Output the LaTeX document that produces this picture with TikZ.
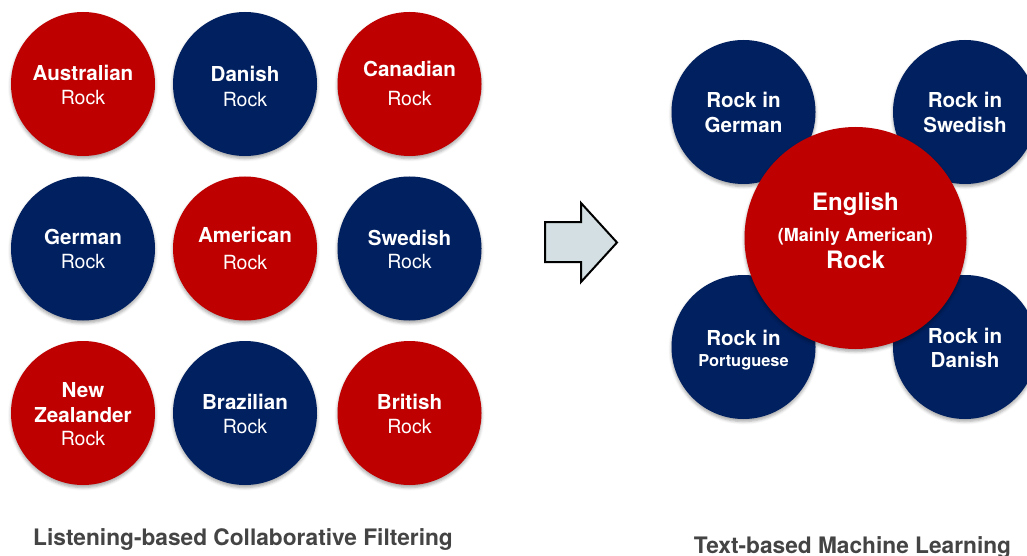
\documentclass[tikz,border=0pt]{standalone}
\usepackage{fontspec}
\setmainfont{TeX Gyre Heros}
\usetikzlibrary{shadows.blur}

\definecolor{discred}{HTML}{BF0000}
\definecolor{discblue}{HTML}{012060}
\definecolor{arrowfill}{HTML}{D3DFE2}
\definecolor{captiongray}{HTML}{444444}

\tikzset{
  disc/.style={circle, inner sep=0pt, draw=none, minimum size=144pt,
    blur shadow={shadow xshift=0pt, shadow yshift=-2.5pt,
      shadow blur radius=3pt, shadow opacity=35}},
  reddisc/.style={disc, fill=discred},
  bluedisc/.style={disc, fill=discblue},
  lbl/.style={text=white, anchor=base, inner sep=0pt},
  bigb/.style={lbl, font=\fontsize{20.6}{24}\selectfont\bfseries},
  small/.style={lbl, font=\fontsize{19.5}{22}\selectfont},
  hugeb/.style={lbl, font=\fontsize{24}{28}\selectfont\bfseries},
  midb/.style={lbl, font=\fontsize{18}{21}\selectfont\bfseries},
  caption/.style={text=captiongray, anchor=base, inner sep=0pt,
    font=\fontsize{22.7}{26}\selectfont\bfseries},
}

\begin{document}
\begin{tikzpicture}[x=1pt, y=-1pt]
  \useasboundingbox (0,0) rectangle (1027,556);

  % ---- grid of rock styles ----
  \node[reddisc]  (au) at (83,84)    {};
  \node[bluedisc] (da) at (245,84)   {};
  \node[reddisc]  (ca) at (409.5,84) {};
  \node[bluedisc] (ge) at (83,248.5)    {};
  \node[reddisc]  (am) at (245,248.5)   {};
  \node[bluedisc] (sw) at (409.5,248.5) {};
  \node[reddisc]  (nz) at (83,413)    {};
  \node[bluedisc] (br) at (245,413)   {};
  \node[reddisc]  (bt) at (409.5,413) {};

  \node[bigb]  (au1) at (83,81)  {Australian};
  \node[small] (au2) at (83,105) {Rock};
  \node[bigb]  (da1) at (245,82)  {Danish};
  \node[small] (da2) at (245,107) {Rock};
  \node[bigb]  (ca1) at (409.5,77)  {Canadian};
  \node[small] (ca2) at (409.5,106) {Rock};

  \node[bigb]  (ge1) at (83,244) {German};
  \node[small] (ge2) at (83,268) {Rock};
  \node[bigb]  (am1) at (245,242) {American};
  \node[small] (am2) at (245,269) {Rock};
  \node[bigb]  (sw1) at (409.5,245) {Swedish};
  \node[small] (sw2) at (409.5,268) {Rock};

  \node[bigb]  (nz1) at (83,397) {New};
  \node[bigb]  (nz2) at (83,422) {Zealander};
  \node[small] (nz3) at (83,445) {Rock};
  \node[bigb]  (br1) at (245,409) {Brazilian};
  \node[small] (br2) at (245,433) {Rock};
  \node[bigb]  (bt1) at (409.5,409) {British};
  \node[small] (bt2) at (409.5,433) {Rock};

  % ---- transition arrow ----
  \draw[fill=arrowfill, draw=black, line width=2pt, line join=miter]
    (545,222) -- (581,222) -- (581,203) -- (617,242.5) -- (581,282)
    -- (581,262) -- (545,262) -- cycle;

  % ---- language clusters ----
  \node[bluedisc] (rg) at (743.5,112) {};
  \node[bluedisc] (rs) at (965,112)   {};
  \node[bluedisc] (rp) at (743.5,347) {};
  \node[bluedisc] (rd) at (965,347)   {};
  \node[reddisc, minimum size=222pt] (en) at (855.5,238) {};

  \node[bigb] (rg1) at (743.5,108) {Rock in};
  \node[bigb] (rg2) at (743.5,133) {German};
  \node[bigb] (rs1) at (965,108) {Rock in};
  \node[bigb] (rs2) at (965,133) {Swedish};
  \node[bigb] (rp1) at (743.5,345) {Rock in};
  \node[lbl, font=\fontsize{16.4}{19}\selectfont\bfseries] (rp2) at (743.5,366) {Portuguese};
  \node[bigb] (rd1) at (965,343) {Rock in};
  \node[bigb] (rd2) at (965,367) {Danish};

  \node[hugeb] (en1) at (855.5,210) {English};
  \node[midb]  (en2) at (855.5,241) {(Mainly American)};
  \node[hugeb] (en3) at (855.5,268) {Rock};

  % ---- captions ----
  \node[caption] (capL) at (243,545)   {Listening-based Collaborative Filtering};
  \node[caption] (capR) at (852.5,553) {Text-based Machine Learning};
\end{tikzpicture}
\end{document}
